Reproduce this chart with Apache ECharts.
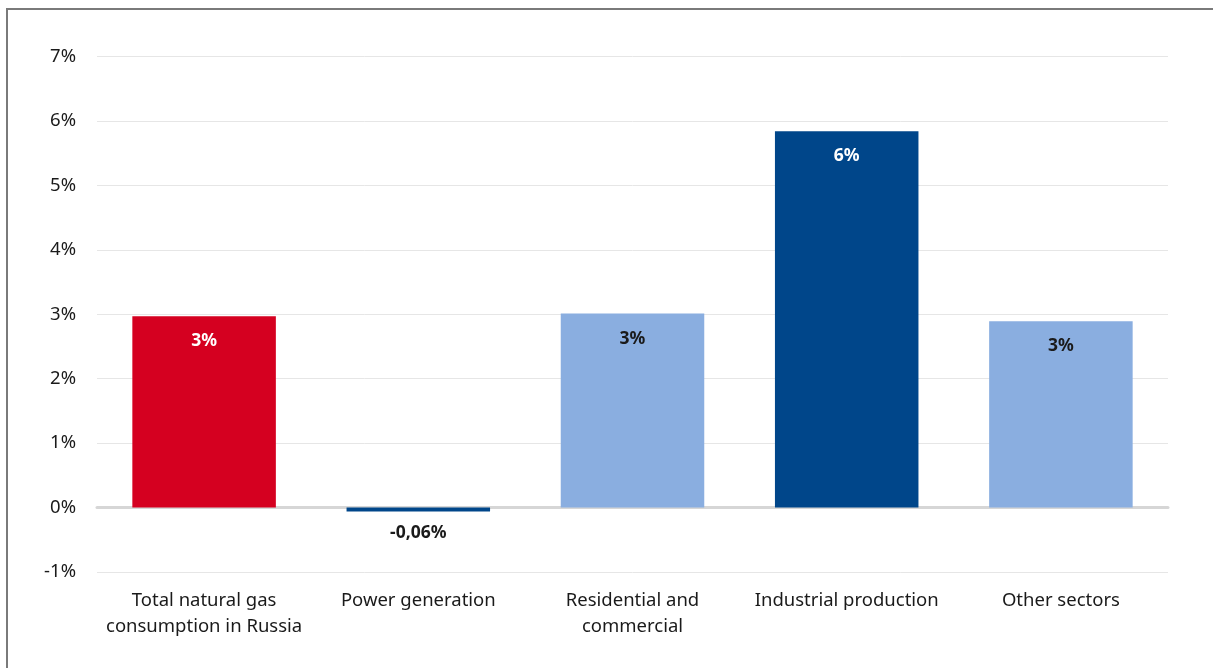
<!DOCTYPE html>
<html>
<head>
<meta charset="utf-8">
<script src="https://cdn.jsdelivr.net/npm/echarts@6/dist/echarts.min.js"></script>
<style>
  html, body { margin: 0; padding: 0; background: #fff; }
  .main { position: relative; width: 1213px; height: 668px; }
  .visual_chart { position: absolute; left: 0; top: 0; width: 1213px; height: 668px; }
  .frame { position: absolute; left: 6px; top: 8px; right: 0; bottom: 0; border-top: 2px solid #7a7a7a; border-left: 2px solid #7a7a7a; pointer-events: none; }
</style>
</head>
<body>
<div class="main">
  <div class="visual_chart" id="chart"></div>
  <div class="frame"></div>
</div>
<script>
var categories = ['Total natural gas\nconsumption in Russia', 'Power generation', 'Residential and\ncommercial', 'Industrial production', 'Other sectors']
var values = [2.97, -0.06, 3.01, 5.84, 2.89]
var barColors = ['#d50020', '#00468a', '#8aaee0', '#00468a', '#8aaee0']
var labelColors = ['#ffffff', '#1a1a1a', '#1a1a1a', '#ffffff', '#1a1a1a']

var fontFamily = '"Noto Sans", sans-serif'

var formatLabel = function (v) {
  if (Math.abs(v) >= 1) return Math.round(v) + '%'
  return v.toFixed(2).replace('.', ',') + '%'
}

var showEcharts = function () {
  var chartDom = document.getElementById('chart')
  var myChart = echarts.init(chartDom)
  var option = {
    animation: false,
    grid: {
      left: 97,
      right: 45,
      top: 56.5,
      bottom: 96
    },
    xAxis: [
      {
        type: 'category',
        data: categories,
        position: 'bottom',
        axisLine: { show: false, onZero: false },
        axisTick: { show: false },
        axisLabel: {
          color: '#1a1a1a',
          fontSize: 18.5,
          fontFamily: fontFamily,
          lineHeight: 26,
          margin: 16,
          interval: 0
        }
      },
      {
        // zero line
        type: 'category',
        data: categories,
        position: 'bottom',
        axisLine: { show: true, onZero: true, lineStyle: { color: '#d6d6d6', width: 3 } },
        axisTick: { show: false },
        axisLabel: { show: false }
      }
    ],
    yAxis: {
      type: 'value',
      min: -1,
      max: 7,
      interval: 1,
      axisLine: { show: false },
      axisTick: { show: false },
      axisLabel: {
        formatter: '{value}%',
        color: '#1a1a1a',
        fontSize: 18.5,
        fontFamily: fontFamily,
        margin: 21
      },
      splitLine: { lineStyle: { color: '#e6e6e6', width: 1 } }
    },
    series: [
      {
        type: 'bar',
        xAxisIndex: 0,
        barWidth: '67%',
        z: 1,
        data: values.map(function (v, i) {
          return {
            value: v,
            itemStyle: { color: barColors[i] },
            label: {
              show: true,
              position: v < 0 ? 'bottom' : 'insideTop',
              distance: v < 0 ? 13 : 16,
              color: labelColors[i],
              fontWeight: 'bold',
              fontSize: 17.5,
              fontFamily: fontFamily,
              formatter: function (p) { return formatLabel(p.value) }
            }
          }
        })
      }
    ]
  }
  option && myChart.setOption(option)
}

showEcharts()
</script>
</body>
</html>
